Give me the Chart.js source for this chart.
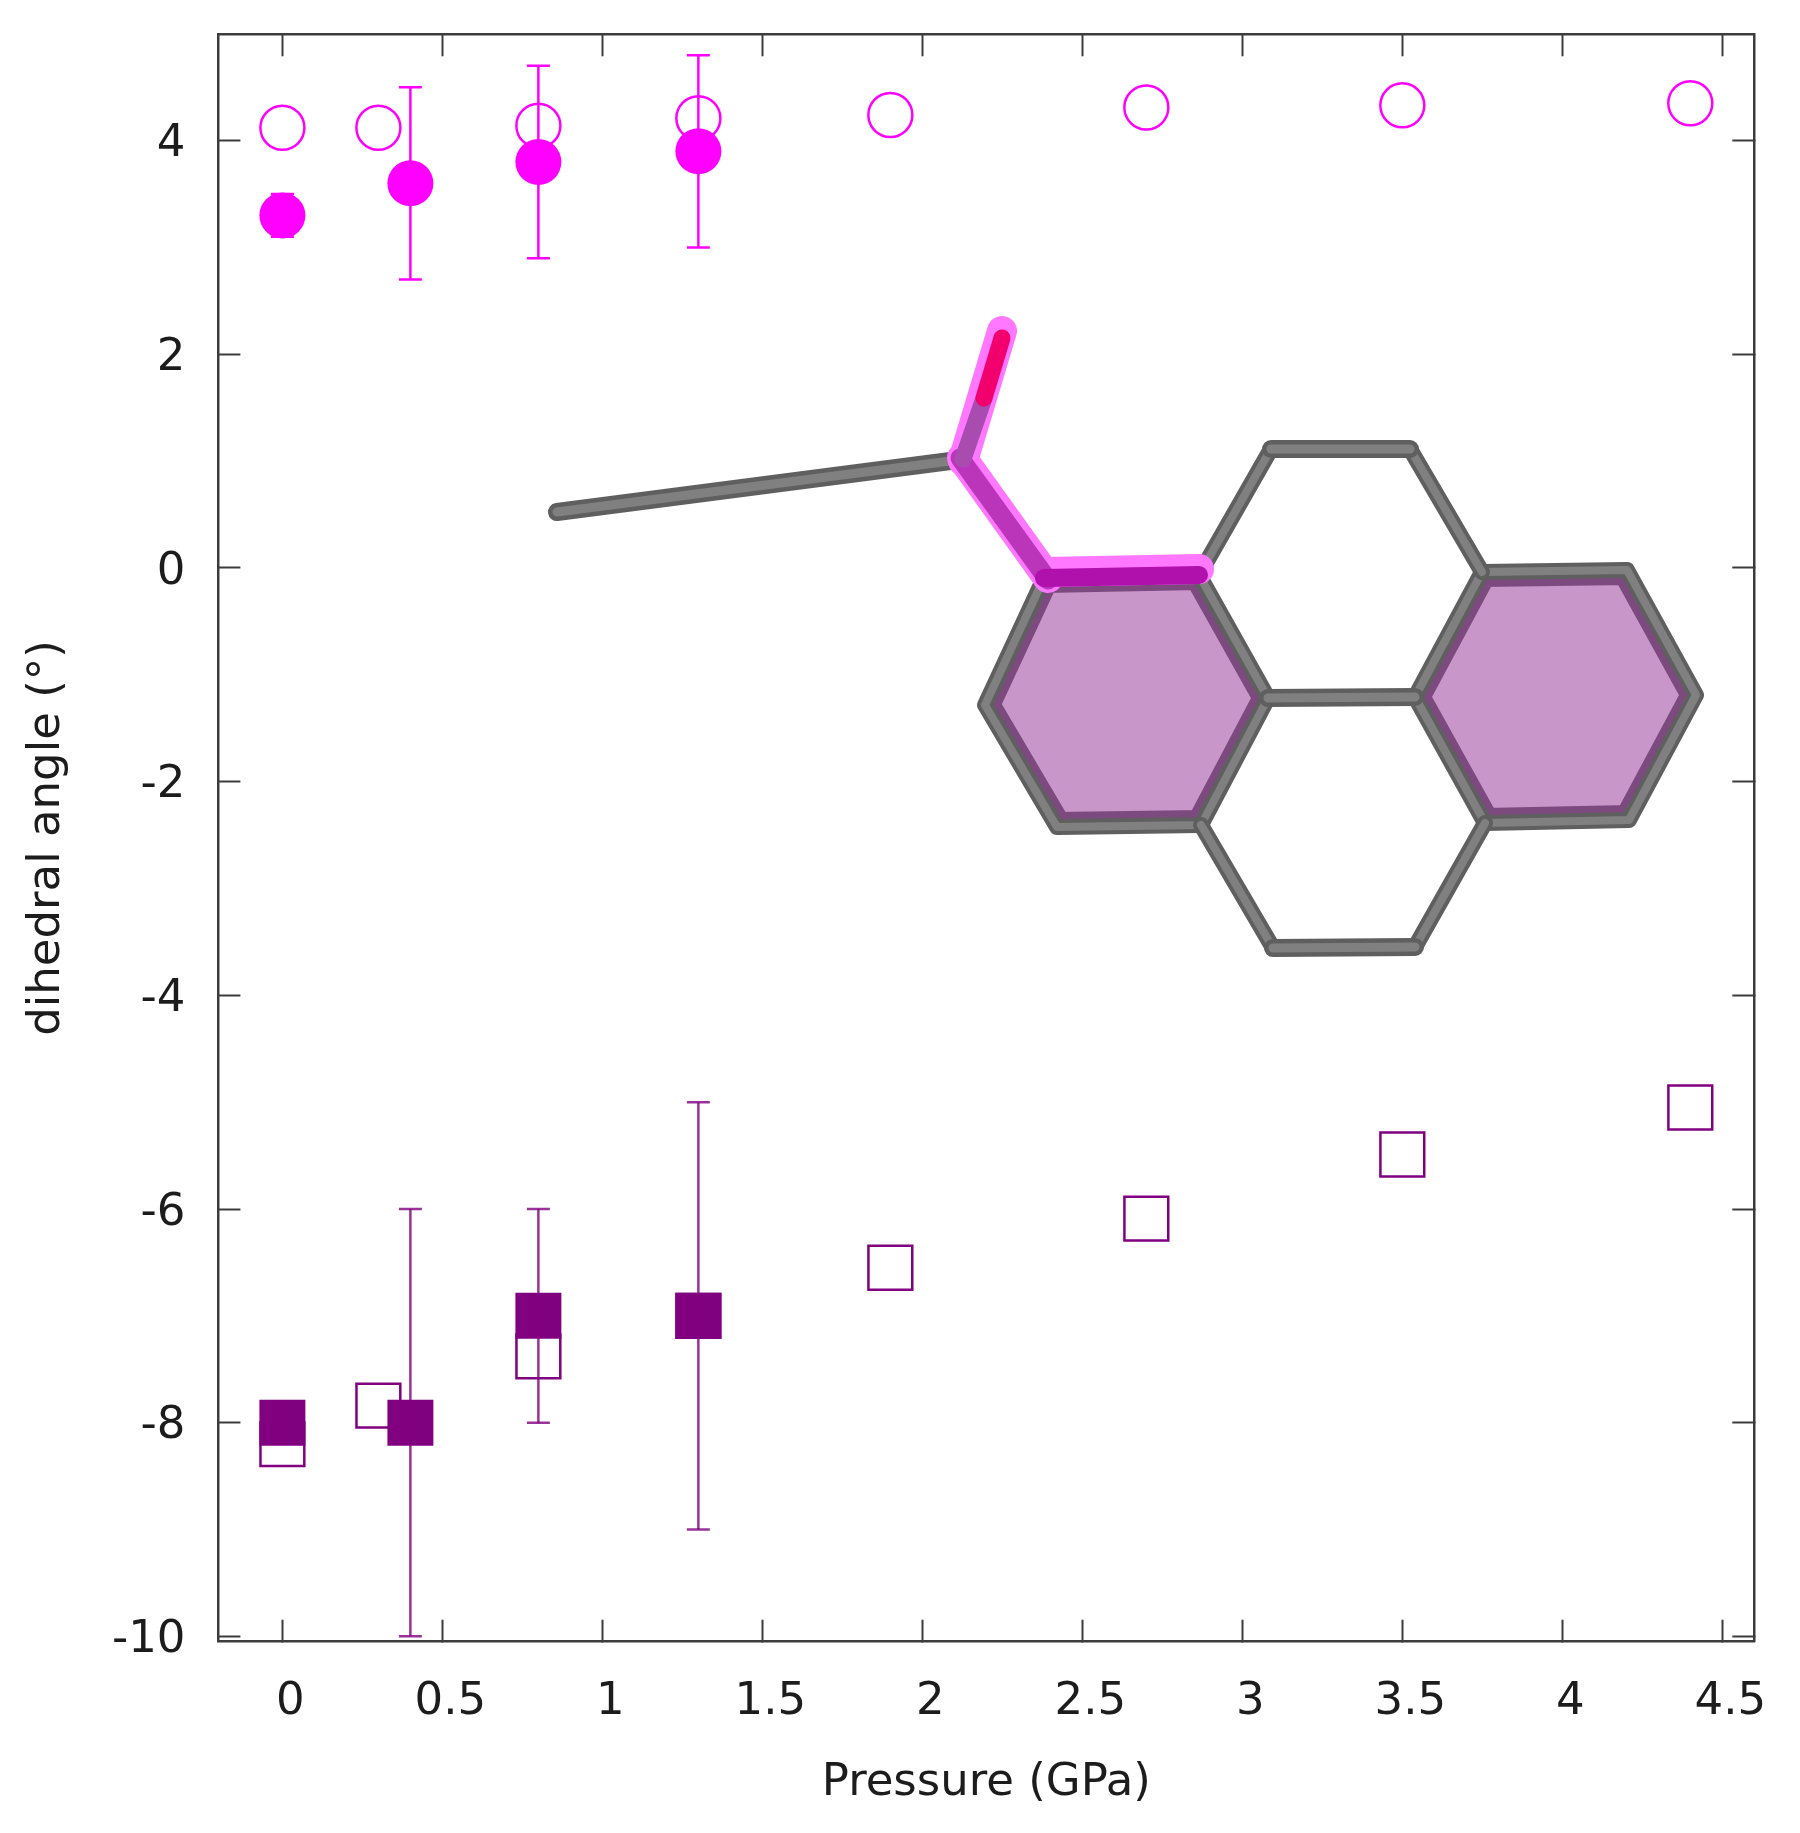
<!DOCTYPE html>
<html>
<head>
<meta charset="utf-8">
<title>dihedral angle vs pressure</title>
<script src="https://cdn.jsdelivr.net/npm/chart.js@4"></script>
<style>
  html, body { margin: 0; padding: 0; background: #fff; }
  canvas { display: block; filter: blur(0.6px); }
</style>
</head>
<body>
<canvas id="angleChart" width="1800" height="1833"></canvas>
<script>
// values
const xTickValues = [0, 0.5, 1, 1.5, 2, 2.5, 3, 3.5, 4, 4.5];
const yTickValues = [-10, -8, -6, -4, -2, 0, 2, 4];

const openPressure = [0, 0.3, 0.8, 1.3, 1.9, 2.7, 3.5, 4.4];
const openCircle = [4.12, 4.12, 4.14, 4.21, 4.24, 4.31, 4.33, 4.35];
const openSquare = [-8.2, -7.84, -7.38, -7.0, -6.55, -6.09, -5.49, -5.05];

const filledPressure = [0, 0.4, 0.8, 1.3];
const filledCircle = [3.3, 3.6, 3.8, 3.9];
const filledSquare = [-8, -8, -7, -7];

const circleErrPressure = [0, 0.4, 0.8, 1.3];
const circleErrLow = [3.1, 2.7, 2.9, 3.0];
const circleErrHigh = [3.5, 4.5, 4.7, 4.8];

const squareErrPressure = [0.4, 0.8, 1.3];
const squareErrLow = [-10, -8, -9];
const squareErrHigh = [-6, -6, -5];

const MAGENTA = '#ff00ff';
const PURPLE = '#800080';
const AXIS = '#3c3c3c';
const TEXT = '#1c1c1c';
const FONT = 'DejaVu Sans';

function points(xs, ys) {
  return xs.map((x, i) => ({ x: x, y: ys[i] }));
}

// low-high segments separated by gaps, so one dataset holds all bars of a series
function errorBars(xs, lows, highs) {
  const out = [];
  xs.forEach((x, i) => {
    out.push({ x: x, y: lows[i] }, { x: x, y: highs[i] }, { x: x, y: null });
  });
  return out;
}

function openSet(data, color, style, radius) {
  return { data: data, pointStyle: style, pointRadius: radius, pointBorderWidth: 2.5,
    pointBorderColor: color, pointBackgroundColor: 'rgba(0,0,0,0)', showLine: false, order: 3 };
}
function filledSet(data, color, style, radius) {
  return { data: data, pointStyle: style, pointRadius: radius, pointBorderWidth: 0,
    pointBorderColor: color, pointBackgroundColor: color, showLine: false, order: 1 };
}
function errorSet(data, color) {
  return { data: data, showLine: true, spanGaps: false, borderColor: color, borderWidth: 2.5,
    pointStyle: 'line', pointRadius: 11.5, pointBorderWidth: 2.5, pointBorderColor: color,
    tension: 0, order: 2 };
}

// the molecule picture that sits inside the plot
const ringLeft = [[1044, 578], [1199, 575], [1268, 698], [1201, 825], [1057, 827], [985, 705]];
const ringRight = [[1482, 572], [1627, 570], [1696, 695], [1629, 820], [1485, 823], [1415, 697]];
const ringTop = [[1199, 575], [1271, 449], [1410, 449], [1482, 572]];
const ringBottom = [[1201, 825], [1273, 948], [1415, 947], [1485, 823]];
const centerBond = [[1268, 698], [1415, 697]];
const methylBond = [[557, 512], [958, 460]];
const ketoneBond = [[963, 459], [984, 398]];
const oxygenBond = [[984, 398], [1002, 338]];
const chainBond = [[960, 458], [1048, 580]];

function stroke(ctx, pts, color, width, close) {
  ctx.beginPath();
  pts.forEach((p, i) => (i ? ctx.lineTo(p[0], p[1]) : ctx.moveTo(p[0], p[1])));
  if (close) ctx.closePath();
  ctx.lineWidth = width;
  ctx.strokeStyle = color;
  ctx.lineCap = 'round';
  ctx.lineJoin = 'round';
  ctx.stroke();
}

function tube(ctx, pts, close, width) {
  stroke(ctx, pts, '#5f5f5f', width, close);
  stroke(ctx, pts, '#808080', width * 0.5, close);
}

const moleculePlugin = {
  id: 'molecule',
  afterDatasetsDraw(chart) {
    const ctx = chart.ctx;
    ctx.save();
    [ringLeft, ringRight].forEach(ring => {
      ctx.save();
      ctx.beginPath();
      ring.forEach((p, i) => (i ? ctx.lineTo(p[0], p[1]) : ctx.moveTo(p[0], p[1])));
      ctx.closePath();
      ctx.fillStyle = '#c896c8';
      ctx.fill();
      ctx.clip();
      stroke(ctx, ring, '#7d4a80', 30, true);
      ctx.restore();
    });
    tube(ctx, ringLeft, true, 16);
    tube(ctx, ringRight, true, 16);
    tube(ctx, ringTop, false, 16);
    tube(ctx, ringBottom, false, 16);
    tube(ctx, centerBond, false, 18);
    tube(ctx, [[1271, 449], [1410, 449]], false, 18);
    tube(ctx, [[1273, 948], [1415, 947]], false, 18);
    tube(ctx, methylBond, false, 18);

    // highlighted fragment
    stroke(ctx, [[1002, 331], [963, 461]], '#ff78ff', 30, false);
    stroke(ctx, [[962, 458], [1048, 578]], '#ff78ff', 30, false);
    stroke(ctx, [[1044, 572], [1199, 569]], '#ff78ff', 30, false);
    stroke(ctx, chainBond, '#bb35bb', 19, false);
    stroke(ctx, ketoneBond, '#a84cb0', 17, false);
    stroke(ctx, oxygenBond, '#f2006e', 17, false);
    stroke(ctx, [[1044, 578], [1199, 575]], '#b010ac', 18, false);
    ctx.restore();
  }
};

function zeroPadding(scale) {
  scale.paddingLeft = 0;
  scale.paddingRight = 0;
  scale.paddingTop = 0;
  scale.paddingBottom = 0;
}

function frameGrid() {
  return { drawOnChartArea: false, drawTicks: true, tickLength: -22, tickWidth: 2, tickColor: AXIS };
}
const frameBorder = { display: true, color: AXIS, width: 2.5 };

function setTicks(values) {
  return scale => { scale.ticks = values.map(v => ({ value: v })); };
}

new Chart(document.getElementById('angleChart').getContext('2d'), {
  type: 'scatter',
  data: {
    datasets: [
      filledSet(points(filledPressure, filledCircle), MAGENTA, 'circle', 23),
      filledSet(points(filledPressure, filledSquare), PURPLE, 'rect', 32.5),
      errorSet(errorBars(circleErrPressure, circleErrLow, circleErrHigh), MAGENTA),
      errorSet(errorBars(squareErrPressure, squareErrLow, squareErrHigh), 'rgba(128,0,128,0.8)'),
      openSet(points(openPressure, openCircle), MAGENTA, 'circle', 22),
      openSet(points(openPressure, openSquare), PURPLE, 'rect', 31)
    ]
  },
  plugins: [moleculePlugin],
  options: {
    responsive: false,
    animation: false,
    devicePixelRatio: 1,
    layout: { padding: { left: 0, top: 34.3, right: 45.7, bottom: 0 } },
    plugins: { legend: { display: false }, tooltip: { enabled: false }, title: { display: false } },
    scales: {
      x: {
        type: 'linear', position: 'bottom', min: -0.2, max: 4.6,
        afterBuildTicks: setTicks(xTickValues),
        afterFit(scale) { scale.height = 191.3; zeroPadding(scale); },
        grid: frameGrid(), border: frameBorder,
        ticks: { color: TEXT, font: { family: FONT, size: 45 }, padding: 56, labelOffset: 8,
          maxRotation: 0, autoSkip: false, callback: v => String(v) },
        title: { display: true, text: 'Pressure (GPa)', color: TEXT,
          font: { family: FONT, size: 45 }, padding: { top: 0, bottom: 22.5 } }
      },
      xTop: {
        type: 'linear', position: 'top', min: -0.2, max: 4.6,
        afterBuildTicks: setTicks(xTickValues),
        afterFit(scale) { scale.height = 0; zeroPadding(scale); },
        grid: frameGrid(), border: frameBorder,
        ticks: { display: false }
      },
      y: {
        type: 'linear', position: 'left', min: -10.05, max: 4.995,
        afterBuildTicks: setTicks(yTickValues),
        afterFit(scale) { scale.width = 218.4; zeroPadding(scale); },
        grid: frameGrid(), border: frameBorder,
        ticks: { color: TEXT, font: { family: FONT, size: 45 }, padding: 55, labelOffset: 4,
          autoSkip: false, callback: v => String(v) },
        title: { display: true, text: 'dihedral angle (°)', color: TEXT,
          font: { family: FONT, size: 45 }, padding: { top: 20.5, bottom: 0 } }
      },
      yRight: {
        type: 'linear', position: 'right', min: -10.05, max: 4.995,
        afterBuildTicks: setTicks(yTickValues),
        afterFit(scale) { scale.width = 0; zeroPadding(scale); },
        grid: frameGrid(), border: frameBorder,
        ticks: { display: false }
      }
    }
  }
});
</script>
</body>
</html>
